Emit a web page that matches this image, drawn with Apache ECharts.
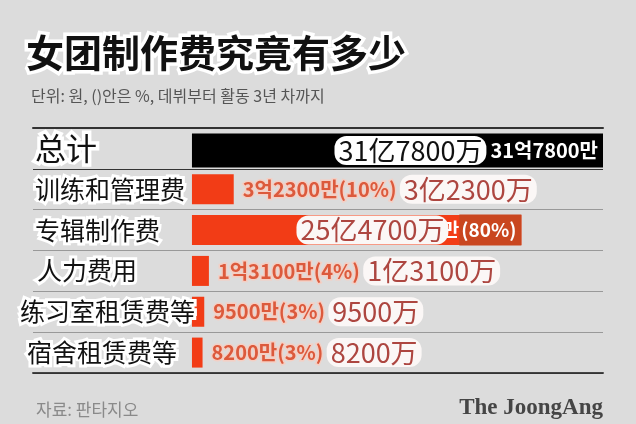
<!DOCTYPE html>
<html>
<head>
<meta charset="utf-8">
<script src="https://cdn.jsdelivr.net/npm/echarts@6/dist/echarts.min.js"></script>
<style>
html,body{margin:0;padding:0;background:#dcdcdc;}
#c{width:636px;height:424px;}
</style>
</head>
<body>
<div id="c"></div>
<script>
// ---- data ----
const categories = ['总计', '训练和管理费', '专辑制作费', '人力费用', '练习室租赁费等', '宿舍租赁费等'];
const valuesYi = [31.78, 3.23, 25.47, 1.31, 0.95, 0.82];            // 亿 (100 million won)
const koLabels = ['31억7800만', '3억2300만', '25억4700만', '1억3100만', '9500만', '8200만'];
const sharePct = [null, 10, 80, 4, 3, 3];
const cnLabels = ['31亿7800万', '3亿2300万', '25亿4700万', '1亿3100万', '9500万', '8200万'];

// ---- layout helpers (not data) ----
const labelIndent = [15, 15, 15, 17, 0, 7];
const xMax = valuesYi[0];
const xMin = -12.29;

const CN = '"Noto Sans CJK SC", sans-serif';
const KR = '"Noto Sans CJK KR", sans-serif';

const totalData = categories.map((c, i) => i === 0 ? valuesYi[i] : '-');
const itemData = categories.map((c, i) => {
  if (i === 0) return '-';
  const big = valuesYi[i] > valuesYi[0] / 2;
  return {
    value: valuesYi[i],
    label: big ? {
      show: true, position: 'insideRight', distance: 0,
      formatter: '{kh|' + koLabels[i] + '}{kd|(' + sharePct[i] + '%)}'
    } : {
      show: true, position: 'right', distance: 9,
      formatter: '{k|' + koLabels[i] + '(' + sharePct[i] + '%)} {c|' + cnLabels[i] + '}'
    }
  };
});
const overlayData = categories.map((c, i) => {
  if (i === 0) return '-';
  const big = valuesYi[i] > valuesYi[0] / 2;
  return big ? { value: valuesYi[i], label: { show: true, position: 'insideRight', offset: [-68, 0], formatter: '{c|' + cnLabels[i] + '}' } } : { value: valuesYi[i], label: { show: false } };
});

const rich = {
  k: { fontFamily: KR, fontSize: 20, fontWeight: 'bold', color: '#dc5a3c', textBorderColor: '#f4cfc4', textBorderWidth: 3 },
  c: { fontFamily: CN, fontSize: 27, color: '#ad4640', backgroundColor: '#fbf7f6', borderRadius: 12, padding: [1, 4, 1, 4] },
  kh: { fontFamily: KR, fontSize: 19, fontWeight: 'bold', color: '#ffffff', padding: [6, 0, 6, 4] },
  kd: { fontFamily: KR, fontSize: 19, fontWeight: 'bold', color: '#ffffff', backgroundColor: '#c9461f', padding: [6, 5, 6, 2] },
  ct: { fontFamily: CN, fontSize: 27, color: '#111111', backgroundColor: '#ffffff', borderRadius: 12, padding: [1, 4, 1, 4] },
  kw: { fontFamily: KR, fontSize: 20, fontWeight: 'bold', color: '#ffffff', padding: [0, 0, 0, 4] }
};

const chart = echarts.init(document.getElementById('c'), null, { renderer: 'canvas' });
chart.setOption({
  backgroundColor: '#dcdcdc',
  animation: false,
  title: [
    { text: '女团制作费究竟有多少', left: 21, top: 29,
      textStyle: { fontFamily: CN, fontSize: 38, fontWeight: 'bold', color: '#111', textBorderColor: '#fff', textBorderWidth: 7 } },
    { text: '단위: 원, ()안은 %, 데뷔부터 활동 3년 차까지', left: 26, top: 83,
      textStyle: { fontFamily: KR, fontSize: 16, fontWeight: 'normal', color: '#555' } },
    { text: '자료: 판타지오', left: 31, top: 396,
      textStyle: { fontFamily: KR, fontSize: 17, fontWeight: 'normal', color: '#8a8a8a' } },
    { text: 'The JoongAng', right: 28, top: 392,
      textStyle: { fontFamily: '"Liberation Serif", serif', fontSize: 23, fontWeight: 'bold', color: '#454545' } }
  ],
  grid: { left: 33, right: 33, top: 128, bottom: 51, containLabel: false },
  xAxis: [
    { type: 'value', min: xMin, max: xMax, position: 'bottom', show: true,
      axisLine: { show: true, onZero: false, lineStyle: { color: '#444', width: 2 } },
      axisTick: { show: false }, axisLabel: { show: false }, splitLine: { show: false } },
    { type: 'value', min: xMin, max: xMax, position: 'top', show: true,
      axisLine: { show: true, onZero: false, lineStyle: { color: '#333', width: 2 } },
      axisTick: { show: false }, axisLabel: { show: false }, splitLine: { show: false } }
  ],
  yAxis: {
    type: 'category', data: categories, inverse: true, z: 10,
    axisLine: { show: false }, axisTick: { show: false },
    splitLine: { show: true, interval: 0, lineStyle: { color: ['#333', '#333', '#999', '#999', '#999', '#999', '#333'], width: 1 } },
    axisLabel: {
      show: true, align: 'left', margin: 13, interval: 0,
      formatter: (v, i) => (i === 0 ? '{t|' : '{a' + i + '|') + v + '}',
      rich: Object.assign({
        t: { fontFamily: CN, fontSize: 31, color: '#111', textBorderColor: '#fff', textBorderWidth: 7, padding: [0, 0, 0, labelIndent[0]] }
      }, ...[1, 2, 3, 4, 5].map(i => ({ ['a' + i]: { fontFamily: CN, fontSize: 25, color: '#111', textBorderColor: '#fff', textBorderWidth: 6, padding: [0, 0, 0, labelIndent[i]] } })))
    }
  },
  series: [
    { name: 'total', type: 'bar', data: totalData, barWidth: 34, barGap: '-100%',
      itemStyle: { color: '#000' },
      label: { show: true, position: 'insideRight', distance: 5,
        formatter: '{ct|' + cnLabels[0] + '}{kw|' + koLabels[0] + '}', rich: rich } },
    { name: 'items', type: 'bar', data: itemData, barWidth: 30, barGap: '-100%',
      itemStyle: { color: '#f23c16' }, label: { rich: rich } },
    { name: 'cn', type: 'bar', data: overlayData, barWidth: 30, barGap: '-100%',
      itemStyle: { color: 'rgba(0,0,0,0)' }, label: { rich: rich } }
  ]
});
</script>
</body>
</html>
